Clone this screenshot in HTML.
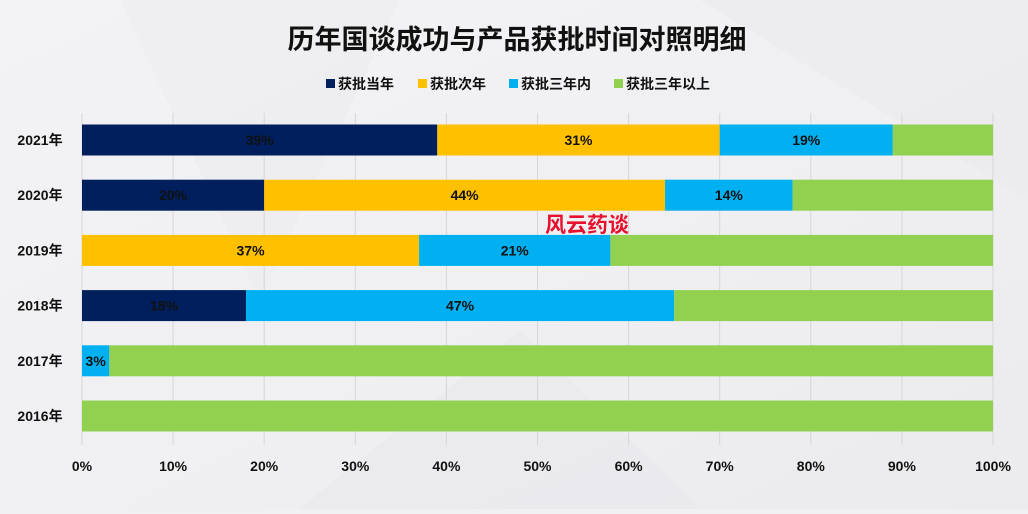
<!DOCTYPE html>
<html><head><meta charset="utf-8">
<style>
html,body{margin:0;padding:0;}
body{width:1028px;height:509px;overflow:hidden;background:#f0f0f2;font-family:"Liberation Sans","Noto Sans CJK SC",sans-serif;}
svg text{font-family:"Liberation Sans","Noto Sans CJK SC",sans-serif;}
</style></head>
<body>
<svg id="chart" width="1028" height="509" xmlns="http://www.w3.org/2000/svg">
<defs><linearGradient id="bg" x1="0" y1="0" x2="1" y2="1"><stop offset="0" stop-color="#f3f3f5"/><stop offset="0.5" stop-color="#f0f0f2"/><stop offset="1" stop-color="#ebebee"/></linearGradient></defs>
<rect width="1028" height="509" fill="url(#bg)"/>
<polygon points="120,0 400,0 260,300" fill="#ececef" opacity="0.6"/>
<polygon points="700,0 1028,0 1028,200" fill="#e9e9ec" opacity="0.5"/>
<polygon points="300,509 520,330 700,509" fill="#e8e8eb" opacity="0.5"/>
<text x="517" y="49" text-anchor="middle" font-size="27" font-weight="bold" fill="#111">历年国谈成功与产品获批时间对照明细</text>
<g id="legend"></g>
<g id="grid"></g><g id="bars"></g><g id="labels"></g>
<text x="587" y="232" text-anchor="middle" font-size="21" font-weight="bold" fill="#e8112d">风云药谈</text>
</svg>
<script>
const categories = ["2021年","2020年","2019年","2018年","2017年","2016年"];
const seriesNames = ["获批当年","获批次年","获批三年内","获批三年以上"];
const s1 = [39,20,0,18,0,0];
const s2 = [31,44,37,0,0,0];
const s3 = [19,14,21,47,3,0];
const s4 = [11,22,42,35,97,100];
const ticks = ["0%","10%","20%","30%","40%","50%","60%","70%","80%","90%","100%"];
const colors = ["#001f5c","#ffc000","#00b0f0","#92d050"];
const NS="http://www.w3.org/2000/svg";
const x0=82,x1=993,yTop=113,yBot=445;
function xs(v){return x0+(x1-x0)*v/100;}
function yc(i){return 140+i*55.2;}
function mk(t,a,p){const e=document.createElementNS(NS,t);for(const k in a)e.setAttribute(k,a[k]);p.appendChild(e);return e;}
const grid=document.getElementById('grid'),bars=document.getElementById('bars'),labels=document.getElementById('labels'),legend=document.getElementById('legend');
ticks.forEach((t,i)=>{const v=i*10;
 const l=mk('line',{x1:xs(v),x2:xs(v),y1:yTop,y2:yBot,stroke:'#d6d6d9','stroke-width':1},grid);
 
 
 const tx=mk('text',{x:xs(v),y:471,'text-anchor':'middle','font-size':14,'font-weight':'bold',fill:'#111'},labels);
 tx.textContent=t;
 
 
});
const series=[s1,s2,s3,s4];
categories.forEach((c,i)=>{
 const y=yc(i);
 const cl=mk('text',{x:40,y:y+5,'text-anchor':'middle','font-size':14,'font-weight':'bold',fill:'#111'},labels);
 cl.textContent=c;
 
 
 let acc=0;
 series.forEach((s,k)=>{const v=s[i];if(v<=0)return;
  const r=mk('rect',{x:xs(acc),y:y-15.5,width:xs(acc+v)-xs(acc),height:31,fill:colors[k]},bars);
  
  
  if(k<3){const t=mk('text',{x:(xs(acc)+xs(acc+v))/2,y:y+5,'text-anchor':'middle','font-size':14,'font-weight':'bold',fill:'#111'},labels);
   t.textContent=v+'%';
   
   }
  acc+=v;});
});
const lx=[326,418,509,614];
seriesNames.forEach((n,k)=>{
 const r=mk('rect',{x:lx[k],y:79,width:9,height:9,fill:colors[k]},legend);
 
 
 const t=mk('text',{x:lx[k]+12,y:89,'font-size':14,'font-weight':'bold',fill:'#111'},legend);
 t.textContent=n;
 
 
});
</script>
</body></html>
